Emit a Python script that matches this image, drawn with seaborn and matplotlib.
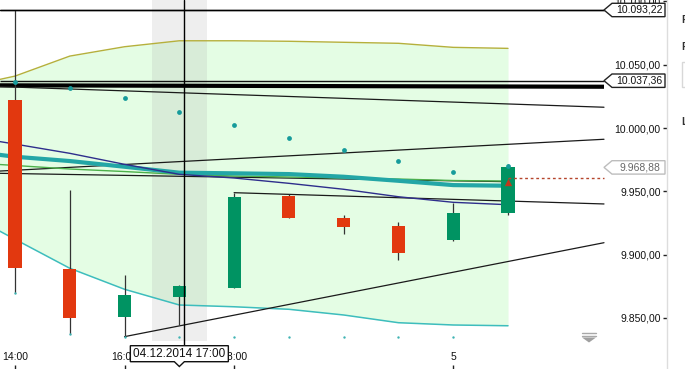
import matplotlib
matplotlib.use("Agg")
import matplotlib.pyplot as plt
import seaborn as sns
import numpy as np
import pandas as pd
from matplotlib.patches import Polygon, Rectangle
from matplotlib.lines import Line2D

# ---------------- data ----------------
candle_idx = [0, 1, 2, 3, 4, 5, 6, 7, 8, 9]
opens  = [10022.1, 9888.6, 9851.0, 9866.7, 9873.9, 9946.5, 9929.1, 9922.6, 9911.5, 9933.1]
highs  = [10093.2, 9951.0, 9883.9, 9876.0, 9948.9, 9947.6, 9931.3, 9925.7, 9941.0, 9971.3]
lows   = [9869.7, 9837.3, 9835.2, 9844.4, 9873.4, 9929.1, 9916.3, 9895.7, 9911.0, 9931.3]
closes = [9889.4, 9850.2, 9868.1, 9875.2, 9945.7, 9929.1, 9922.0, 9901.5, 9933.1, 9968.88]

band_idx   = [-1, 0, 1, 2, 3, 4, 5, 6, 7, 8, 9]
band_upper = [10031.6, 10041.0, 10056.8, 10064.2, 10068.9, 10068.9, 10068.5, 10067.7, 10066.9, 10063.7, 10062.9]
band_lower = [9935.2, 9912.1, 9889.2, 9872.6, 9860.2, 9858.8, 9856.8, 9852.3, 9846.2, 9844.4, 9843.8]
ma_teal    = [9982.6, 9977.3, 9973.9, 9969.4, 9964.7, 9964.2, 9963.6, 9961.5, 9958.3, 9954.9, 9954.4]
ma_navy    = [9994.4, 9987.3, 9980.0, 9971.3, 9963.4, 9960.5, 9956.3, 9951.6, 9945.7, 9941.3, 9939.4]
ma_green   = [9973.1, 9970.4, 9967.6, 9965.6, 9963.4, 9962.1, 9961.3, 9960.5, 9959.7, 9958.5, 9958.1]

sar_idx  = [0, 1, 2, 3, 4, 5, 6, 7, 8, 9]
sar_vals = [10036.3, 10031.6, 10023.9, 10012.6, 10002.1, 9992.1, 9982.6, 9973.9, 9965.5, 9970.2]
low_dot_idx  = [0, 1, 2, 3, 4, 5, 6, 7, 8]
low_dot_vals = [9869.7, 9837.3, 9835.2, 9835.2, 9835.2, 9835.2, 9835.2, 9835.2, 9835.2]

LINE_END = (604 - 15) / 54.78
X_LEFT = -15 / 54.78
X_RIGHT = (667 - 15) / 54.78
trend_lines = [
    (X_LEFT, 10032.7, LINE_END, 10016.4),
    (X_LEFT, 9966.0, LINE_END, 9991.1),
    (X_LEFT, 9964.2, 9, 9957.6),
    (4, 9948.9, LINE_END, 9940.0),
    (2, 9835.2, LINE_END, 9909.4),
]
thick_level = (10033.7, 10032.6)
levels = [10093.22, 10037.36]
last_price = 9968.88
dotted_level = 9960.3
marker_level = 9957.6

ytick_vals = [9850, 9900, 9950, 10000, 10050, 10100]
xtick_pos = [0, 2, 4, 8]
xtick_labels = ["14:00", "16:00", "18:00", "5"]
crosshair_x = (184 - 15) / 54.78
date_label = "04.12.2014 17:00"

def de_fmt(v):
    return f"{v:,.2f}".replace(",", "X").replace(".", ",").replace("X", ".")

# ---------------- style ----------------
sns.set_theme(style="white")
plt.rcParams["font.family"] = ["Liberation Sans", "DejaVu Sans"]

W, H = 685, 369
fig = plt.figure(figsize=(W / 100, H / 100), dpi=100)
ax = fig.add_axes([0, 0, 667 / W, 1])
PX = 1.266
ax.set_xlim(X_LEFT, X_RIGHT)
ax.set_ylim(10000 - (H - 128) / PX, 10000 + 128 / PX)

RED = "#E2380F"
GREEN = "#009362"

ax.fill_between(band_idx, band_lower, band_upper, color="#E4FDE4", lw=0, zorder=1)
sns.lineplot(x=band_idx, y=band_upper, ax=ax, color="#B5B03C", linewidth=1.0,
             estimator=None, sort=False, zorder=2)
sns.lineplot(x=band_idx, y=band_lower, ax=ax, color="#3DBDBD", linewidth=1.1,
             estimator=None, sort=False, zorder=2)

ax.axvspan(2.5, 3.5, ymin=(H - 341) / H, ymax=1, color="#A3A3A3", alpha=0.185, lw=0, zorder=1.5)

for lv in levels:
    ax.hlines(lv, X_LEFT, LINE_END, colors="#111111", lw=1.0, zorder=3)
ax.plot([X_LEFT, LINE_END], list(thick_level), color="#000000", lw=3.0, zorder=3,
        solid_capstyle="butt")

for x0, v0, x1, v1 in trend_lines:
    ax.plot([x0, x1], [v0, v1], color="#1A1A1A", lw=0.9, zorder=3)

sns.lineplot(x=band_idx, y=ma_green, ax=ax, color="#4DB04A", linewidth=1.0,
             estimator=None, sort=False, zorder=3.4)
sns.lineplot(x=band_idx, y=ma_teal, ax=ax, color="#23A6A6", linewidth=3.0,
             estimator=None, sort=False, zorder=3.5)
sns.lineplot(x=band_idx, y=ma_navy, ax=ax, color="#2E2E8C", linewidth=1.0,
             estimator=None, sort=False, zorder=3.6)

ax.vlines(candle_idx, lows, highs, colors="#333333", lw=0.9, zorder=4)
bottoms = [min(o, c) for o, c in zip(opens, closes)]
heights = [abs(c - o) for o, c in zip(opens, closes)]
cols = [GREEN if c >= o else RED for o, c in zip(opens, closes)]
ax.bar(candle_idx, heights, bottom=bottoms, width=0.24, color=cols, lw=0, zorder=5)

sns.scatterplot(x=sar_idx, y=sar_vals, ax=ax, color="#169B9B", s=12, linewidth=0, zorder=6)
sns.scatterplot(x=low_dot_idx, y=low_dot_vals, ax=ax, color="#3FB3B3", s=3, linewidth=0, zorder=6)

ax.hlines(dotted_level, 9, LINE_END, colors="#B5452C", lw=1.0, linestyles=(0, (2, 2)), zorder=6)
ax.scatter([9], [marker_level], marker="^", s=28, color="#C0391B", lw=0, zorder=7)

ax.axhline(levels[0], xmin=0, xmax=(LINE_END - X_LEFT) / (X_RIGHT - X_LEFT), color="#000", lw=1.0, zorder=7)
ax.axvline(crosshair_x, ymin=(H - 346) / H, ymax=1, color="#000", lw=1.0, zorder=7)

def value_box(v, text, ec, tc):
    xt = LINE_END
    xl = (612 - 15) / 54.78
    xr = (665 - 15) / 54.78
    hh = 6.7 / PX
    poly = Polygon([(xt, v), (xl, v + hh), (xr, v + hh), (xr, v - hh), (xl, v - hh)],
                   closed=True, fc="white", ec=ec, lw=1.0, zorder=10, clip_on=False)
    ax.add_patch(poly)
    ax.text((xl + xr) / 2 + 0.02, v, text, ha="center", va="center", fontsize=7.5,
            color=tc, zorder=11)

value_box(levels[0], de_fmt(levels[0]), "#222222", "#111111")
value_box(levels[1], de_fmt(levels[1]), "#222222", "#111111")
value_box(last_price, de_fmt(last_price), "#BDBDBD", "#666666")

ax.yaxis.tick_right()
ax.set_yticks(ytick_vals, labels=[de_fmt(v) for v in ytick_vals])
ax.tick_params(axis="y", direction="in", length=3, width=1, color="#222222", pad=-4.5,
               labelsize=7.5, labelcolor="#111111")
for lbl in ax.get_yticklabels():
    lbl.set_horizontalalignment("right")
ax.set_xticks(xtick_pos, labels=xtick_labels)
ax.tick_params(axis="x", direction="in", length=3, width=1, color="#222222", pad=-12.5,
               labelsize=7.5, labelcolor="#111111")
ax.tick_params(bottom=True, right=True, left=False, top=False)
for s in ["left", "top", "bottom"]:
    ax.spines[s].set_visible(False)
ax.spines["right"].set_color("#DDDDDD")
ax.spines["right"].set_linewidth(1.0)
ax.grid(False)
ax.set_facecolor("white")

tr = ax.get_xaxis_transform()
cx = 3.0
hw = 49 / 54.78
pw = 5 / 54.78
yt = (H - 345.7) / H
yb = (H - 361.7) / H
ya = (H - 366.5) / H
date_poly = Polygon([(cx - hw, yt), (cx + hw, yt), (cx + hw, yb), (cx + pw, yb), (cx, ya),
                     (cx - pw, yb), (cx - hw, yb)], closed=True, fc="white", ec="#111111",
                    lw=1.0, transform=tr, zorder=12, clip_on=False)
ax.add_patch(date_poly)
ax.text(cx, (yt + yb) / 2, date_label, transform=tr, ha="center", va="center",
        fontsize=8.5, color="#111111", zorder=13)

fx = lambda p: p / W
fy = lambda p: 1 - p / H
for yy in (333, 335.5):
    fig.add_artist(Line2D([fx(582), fx(596)], [fy(yy), fy(yy)], color="#A8A8A8", lw=1.0))
fig.add_artist(Polygon([(fx(582), fy(337.5)), (fx(596), fy(337.5)), (fx(589), fy(342.5))],
                       closed=True, fc="#A0A0A0", ec="none", transform=fig.transFigure))

fig.text(fx(681), fy(20), "F", fontsize=7.5, color="#333333", va="center", ha="left", weight="bold")
fig.text(fx(681), fy(47), "F", fontsize=7.5, color="#333333", va="center", ha="left", weight="bold")
fig.text(fx(681), fy(122), "L", fontsize=7.5, color="#333333", va="center", ha="left", weight="bold")
fig.add_artist(Rectangle((fx(681.5), fy(87)), fx(30), 25 / H, fc="white", ec="#D8D8D8",
                         lw=1.0, transform=fig.transFigure))

fig.savefig("out.png", dpi=100)
